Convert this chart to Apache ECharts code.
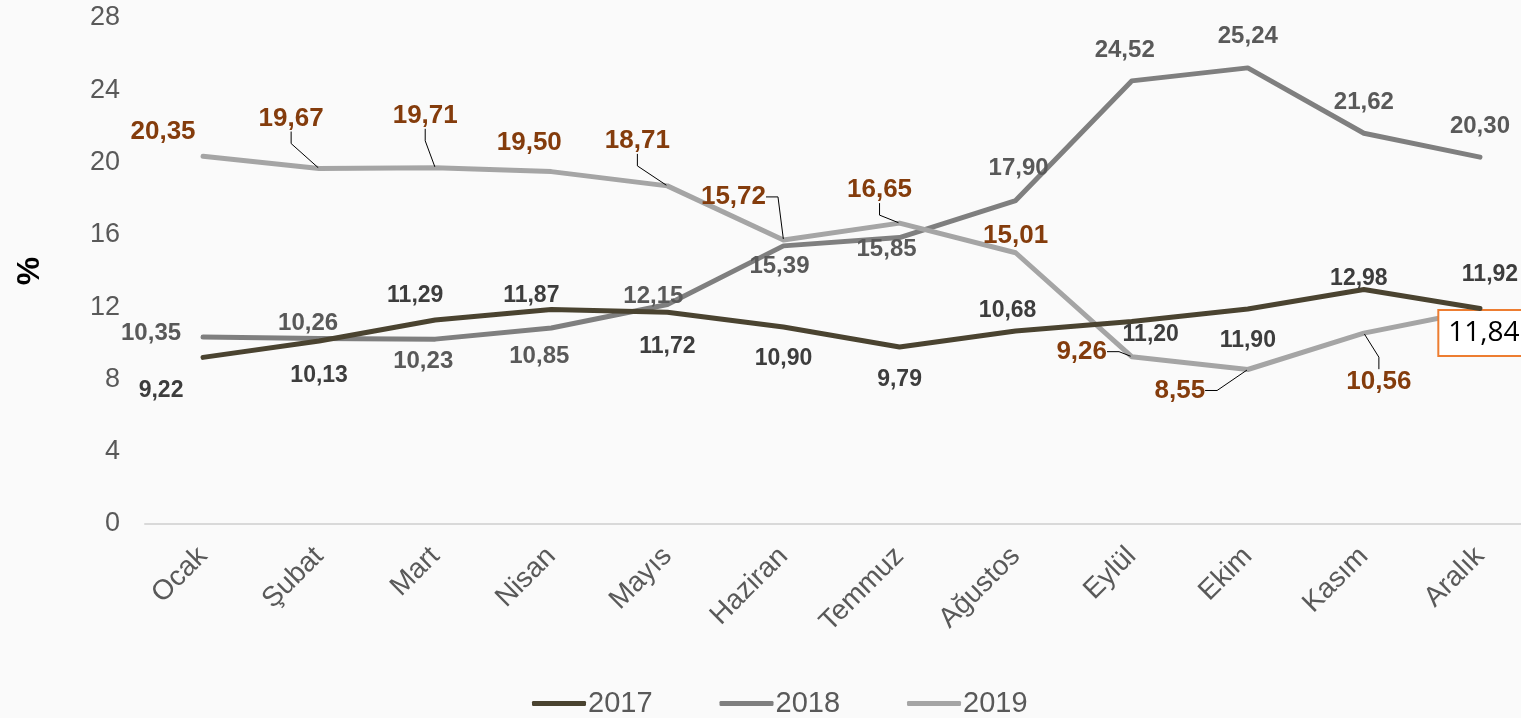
<!DOCTYPE html>
<html>
<head>
<meta charset="utf-8">
<script src="https://cdn.jsdelivr.net/npm/echarts@6/dist/echarts.min.js"></script>
<style>
html,body{margin:0;padding:0;background:#fafafa;}
#chart{width:1521px;height:718px;}
</style>
</head>
<body>
<div id="chart"></div>
<script>
const months = ['Ocak','Şubat','Mart','Nisan','Mayıs','Haziran','Temmuz','Ağustos','Eylül','Ekim','Kasım','Aralık'];
const seriesNames = ['2017','2018','2019'];
const values2017 = [9.22, 10.13, 11.29, 11.87, 11.72, 10.90, 9.79, 10.68, 11.20, 11.90, 12.98, 11.92];
const values2018 = [10.35, 10.26, 10.23, 10.85, 12.15, 15.39, 15.85, 17.90, 24.52, 25.24, 21.62, 20.30];
const values2019 = [20.35, 19.67, 19.71, 19.50, 18.71, 15.72, 16.65, 15.01, 9.26, 8.55, 10.56, 11.84];
const yMin = 0, yMax = 28, yStep = 4;

// label placement (style only)
const off2017 = [[-42,33],[0,35],[-20,-24],[-20,-14],[0,34],[0,32],[0,33],[-8,-20],[19,13],[0,32],[-5,-11],[10,-34]];
const off2018 = [[-52,-4],[-11,-15],[-12,22],[-12,28],[-14,-8],[-4,20],[-13,12],[3,-32],[-7,-31],[0,-32],[0,-31],[0,-31]];
const off2019 = [[-40,-24],[-28,-50],[-10,-52],[-22,-29],[-30,-45],[-50,-43],[-20,-33],[0,-17],[-50,-5],[-68,21],[15,49],[4,23]];
const leader2019 = [false,true,true,false,true,true,true,false,true,true,true,false];

const fmt = v => v.toFixed(2).replace('.', ',');
const colors = ['#4a4330', '#7f7f7f', '#a5a5a5'];
const labelColors = ['#3d3d3d', '#595959', '#843c0c'];
const labelSizes = [23, 24, 26];
const allValues = [values2017, values2018, values2019];
const allOffsets = [off2017, off2018, off2019];

function buildData(si) {
  return allValues[si].map((v, i) => {
    const item = { value: v };
    if (si === 2) {
      item.labelLine = { show: leader2019[i] };
      if (i === 11) {
        item.label = {
          fontWeight: 'normal', color: '#000', fontSize: 28,
          fontFamily: '"Open Sans", "Liberation Sans", sans-serif',
          backgroundColor: '#ffffff', borderColor: '#ed7d31', borderWidth: 2,
          padding: [9, 9, 7, 9]
        };
      }
    }
    return item;
  });
}

const series = seriesNames.map((name, si) => ({
  name: name,
  type: 'line',
  data: buildData(si),
  color: colors[si],
  lineStyle: { width: 5, color: colors[si], cap: 'round', join: 'round' },
  symbol: 'circle',
  symbolSize: 2,
  itemStyle: { color: colors[si] },
  z: si === 2 ? 3 : (si === 1 ? 2 : 4),
  label: {
    show: true,
    position: 'inside',
    formatter: p => fmt(p.value),
    fontFamily: '"Liberation Sans", Arial, sans-serif',
    fontWeight: 'bold',
    fontSize: labelSizes[si],
    color: labelColors[si]
  },
  labelLine: {
    show: false,
    lineStyle: { color: '#000', width: 1 },
    length2: 12
  },
  labelLayout: (p) => {
    const o = allOffsets[si][p.dataIndex];
    return { dx: o[0], dy: o[1] };
  },
  emphasis: { disabled: true },
  animation: false
}));

const chart = echarts.init(document.getElementById('chart'), null, { renderer: 'canvas' });
chart.setOption({
  backgroundColor: '#fafafa',
  animation: false,
  textStyle: { fontFamily: '"Liberation Sans", Arial, sans-serif' },
  grid: { left: 145, right: -17, top: 18, bottom: 194, containLabel: false, outerBoundsMode: 'none' },
  legend: {
    data: seriesNames,
    left: 527,
    top: 684,
    itemWidth: 54,
    itemHeight: 5,
    itemGap: 67,
    icon: 'roundRect',
    textStyle: { fontSize: 29, color: '#595959', padding: [0, 0, 0, -3] }
  },
  xAxis: {
    type: 'category',
    data: months,
    boundaryGap: true,
    axisLine: { show: true, lineStyle: { color: '#d9d9d9', width: 2 } },
    axisTick: { show: false },
    axisLabel: { rotate: 45, fontSize: 28, color: '#595959', margin: 28, interval: 0 }
  },
  yAxis: {
    type: 'value',
    min: yMin,
    max: yMax,
    interval: yStep,
    name: '%',
    nameLocation: 'middle',
    nameRotate: 90,
    nameGap: 99,
    nameTextStyle: { fontSize: 32, fontWeight: 'bold', color: '#000' },
    axisLine: { show: false },
    axisTick: { show: false },
    splitLine: { show: false },
    axisLabel: { fontSize: 27, color: '#595959', margin: 25 }
  },
  series: series
});
</script>
</body>
</html>
